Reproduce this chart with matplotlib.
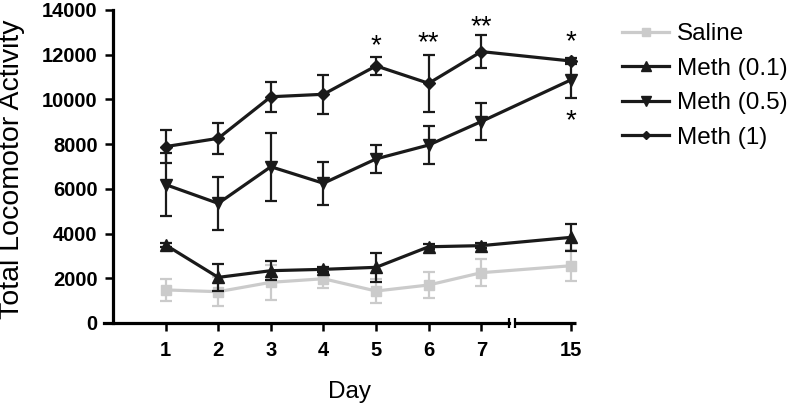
import matplotlib
matplotlib.use('Agg')
import matplotlib.pyplot as plt
import matplotlib.transforms as mtransforms

# ---- data ----
days = [1, 2, 3, 4, 5, 6, 7, 15]
series_names = ['Saline', 'Meth (0.1)', 'Meth (0.5)', 'Meth (1)']
saline_mean = [1480, 1400, 1820, 1980, 1430, 1700, 2250, 2560]
saline_sem = [480, 650, 790, 430, 550, 600, 610, 700]
meth01_mean = [3490, 2040, 2340, 2400, 2490, 3410, 3460, 3830]
meth01_sem = [100, 600, 420, 100, 660, 120, 120, 600]
meth05_mean = [6190, 5350, 6990, 6250, 7340, 7960, 9010, 10870]
meth05_sem = [1400, 1170, 1530, 960, 630, 830, 820, 800]
meth1_mean = [7890, 8260, 10120, 10230, 11500, 10720, 12140, 11720]
meth1_sem = [750, 700, 660, 880, 400, 1280, 730, 150]
star_days = [5, 6, 7, 15]
star_labels = ['*', '**', '**', '*']
y_ticks = [0, 2000, 4000, 6000, 8000, 10000, 12000, 14000]

# map days onto axis positions (broken axis between 7 and 15)
def xpos(d):
    return d if d <= 7 else 8.7

xs = [xpos(d) for d in days]

plt.rcParams['font.family'] = ['Liberation Sans', 'DejaVu Sans']

fig = plt.figure(figsize=(7.93, 4.03), dpi=100)
ax = fig.add_axes([113 / 793, 1 - 323 / 403, (576 - 113) / 793, 313 / 403])

dark = '#1a1a1a'
gray = '#cbcbcb'
styles = [
    (saline_mean, saline_sem, gray, 's', 7),
    (meth01_mean, meth01_sem, dark, '^', 9),
    (meth05_mean, meth05_sem, dark, 'v', 9),
    (meth1_mean, meth1_sem, dark, 'D', 6),
]
handles = []
for i, (m, s, c, mk, ms) in enumerate(styles):
    cont = ax.errorbar(xs, m, yerr=s, color=c, marker=mk, markersize=ms,
                       linewidth=2.3, elinewidth=1.6, capsize=4.5, capthick=1.6,
                       zorder=2 + i, clip_on=False)
    handles.append(cont[0])

# stars
mi = {d: i for i, d in enumerate(days)}
star_off = {5: 8, 6: 8, 7: 6, 15: 11}
for d, lab in zip(star_days, star_labels):
    i = mi[d]
    top = meth1_mean[i] + meth1_sem[i]
    ax.annotate(lab, xy=(xpos(d), top), xytext=(0, star_off[d]), textcoords='offset points',
                ha='center', va='center', fontsize=20, color='black')
i15 = mi[15]
ax.annotate('*', xy=(xpos(15), meth05_mean[i15] - meth05_sem[i15]), xytext=(0, -17),
            textcoords='offset points', ha='center', va='center', fontsize=20, color='black')

ax.set_xlim(0, 8.8)
ax.set_ylim(0, 14000)
ax.set_yticks(y_ticks)
ax.set_yticklabels([str(v) for v in y_ticks])
ax.set_xticks(xs)
ax.set_xticklabels([str(d) for d in days])

for sp in ['top', 'right']:
    ax.spines[sp].set_visible(False)
for sp in ['left', 'bottom']:
    ax.spines[sp].set_linewidth(2.3)
    ax.spines[sp].set_color('black')
ax.spines['bottom'].set_bounds(-0.17, 7.53)

# second segment of broken x axis
trans = mtransforms.blended_transform_factory(ax.transData, ax.transAxes)
ax.plot([7.64, 8.8], [0, 0], color='black', linewidth=2.3, transform=trans,
        clip_on=False, solid_capstyle='butt', zorder=10)
ax.plot([7.53, 7.64], [0, 0], color='black', linestyle='none', marker='|',
        markersize=7, markeredgewidth=1.6, transform=trans, clip_on=False, zorder=10)

ax.tick_params(axis='both', direction='out', length=6, width=1.8, color='black',
               labelsize=14.5)
ax.tick_params(axis='x', pad=7)
ax.tick_params(axis='y', pad=5)
for lab in ax.get_xticklabels() + ax.get_yticklabels():
    lab.set_fontweight('bold')

ax.set_ylabel('Total Locomotor Activity', fontsize=20.5)
ax.yaxis.set_label_coords(-0.19, 0.49)
ax.set_xlabel('Day', fontsize=17.5)
ax.xaxis.set_label_coords(0.51, -0.185)

ax.legend(handles, series_names, loc='upper left', bbox_to_anchor=(622 / 793, 1 - 23 / 403),
          bbox_transform=fig.transFigure, frameon=False, fontsize=17.5,
          handlelength=1.95, handletextpad=0.3, labelspacing=0.52, borderaxespad=0,
          borderpad=0, markerscale=0.75)

fig.savefig('out.png', dpi=100)
